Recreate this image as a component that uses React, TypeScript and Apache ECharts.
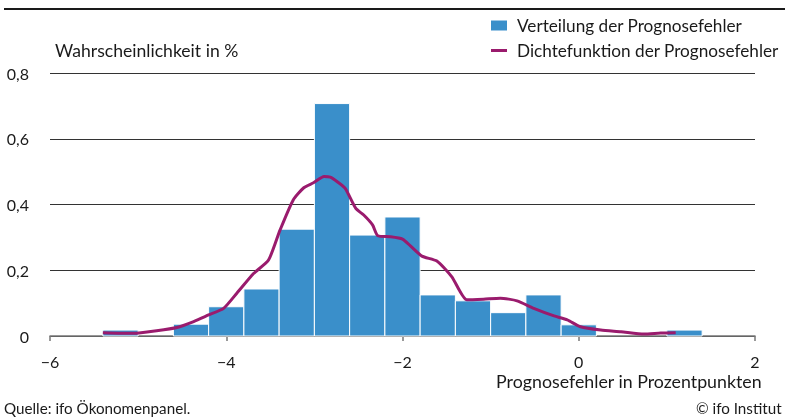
import React, { useEffect, useRef } from "react";
import * as echarts from "echarts";

// Histogram bins (lower edges) and heights (probability density)
const BIN_WIDTH = 0.4;
const binLower = [-5.4, -4.6, -4.2, -3.8, -3.4, -3.0, -2.6, -2.2, -1.8, -1.4, -1.0, -0.6, -0.2, 1.0];
const binHeight = [0.018, 0.036, 0.089, 0.143, 0.325, 0.707, 0.307, 0.362, 0.125, 0.107, 0.071, 0.125, 0.034, 0.018];

// Density curve sample points
const densityX = [-5.40, -5.05, -4.79, -4.56, -4.37, -4.20, -4.03, -3.88, -3.69, -3.52, -3.39, -3.24, -3.12, -3.01, -2.89, -2.82, -2.74, -2.65, -2.53, -2.44, -2.34, -2.28, -2.14, -2.00, -1.91, -1.78, -1.61, -1.44, -1.27, -1.08, -0.89, -0.70, -0.51, -0.28, -0.13, 0.02, 0.25, 0.48, 0.74, 0.93, 1.10];
const densityY = [0.010, 0.008, 0.016, 0.026, 0.044, 0.064, 0.084, 0.130, 0.190, 0.231, 0.322, 0.414, 0.451, 0.466, 0.485, 0.483, 0.469, 0.449, 0.388, 0.368, 0.338, 0.305, 0.302, 0.295, 0.274, 0.243, 0.228, 0.180, 0.110, 0.112, 0.115, 0.107, 0.084, 0.061, 0.049, 0.028, 0.018, 0.013, 0.006, 0.009, 0.010];

const seriesNames = ["Verteilung der Prognosefehler", "Dichtefunktion der Prognosefehler"];
const yAxisTitle = "Wahrscheinlichkeit in %";
const xAxisTitle = "Prognosefehler in Prozentpunkten";
const sourceText = "Quelle: ifo Ökonomenpanel.";
const copyrightText = "© ifo Institut";

const FONT = "Lato, 'Noto Sans', sans-serif";
const TEXT = "#1a1a1a";
const BLUE = "#3a8fca";
const PURPLE = "#9a1b6d";
const LINE_ICON = "path://M0,0M0,3.5L16,3.5L16,6.5L0,6.5ZM16,10";

export default function App() {
  const ref = useRef<HTMLDivElement>(null);
  useEffect(() => {
    if (!ref.current) return;
    const chart = echarts.init(ref.current, null, { renderer: "svg" });
    const histData = binLower.map((lo, i) => [lo, +(lo + BIN_WIDTH).toFixed(2), binHeight[i]]);
    const lineData = densityX.map((x, i) => [x, densityY[i]]);
    chart.setOption({
      animation: false,
      textStyle: { fontFamily: FONT },
      grid: { left: 50, right: 30, top: 73, bottom: 81, containLabel: false },
      legend: {
        orient: "vertical",
        left: 491,
        top: 17,
        padding: 0,
        itemWidth: 16,
        itemHeight: 10,
        itemGap: 8,
        textStyle: { fontSize: 17.2, color: TEXT, fontFamily: FONT, padding: [0, 0, 0, 5] },
        data: [
          { name: seriesNames[0], icon: "rect" },
          { name: seriesNames[1], icon: LINE_ICON },
        ],
      },
      xAxis: {
        type: "value",
        min: -6,
        max: 2,
        interval: 2,
        axisLine: { show: true, lineStyle: { color: "#777", width: 1.5 } },
        axisTick: { show: true, length: 5, lineStyle: { color: "#777", width: 1.5 } },
        axisLabel: {
          fontSize: 16,
          color: TEXT,
          fontFamily: FONT,
          margin: 17,
          formatter: (v: number) => String(v).replace("-", "\u2212"),
        },
        splitLine: { show: false },
      },
      yAxis: {
        type: "value",
        min: 0,
        max: 0.8,
        interval: 0.2,
        axisLine: { show: false },
        axisTick: { show: false },
        axisLabel: {
          fontSize: 16,
          color: TEXT,
          fontFamily: FONT,
          margin: 21,
          formatter: (v: number) => (v === 0 ? "0" : v.toFixed(1).replace(".", ",")),
        },
        splitLine: { show: true, lineStyle: { color: "#333", width: 1 } },
      },
      series: [
        {
          name: seriesNames[0],
          type: "custom",
          itemStyle: { color: BLUE },
          encode: { x: [0, 1], y: 2 },
          data: histData,
          renderItem: (params: any, api: any) => {
            const p0 = api.coord([api.value(0), api.value(2)]);
            const p1 = api.coord([api.value(1), 0]);
            return {
              type: "rect",
              shape: { x: p0[0], y: p0[1], width: p1[0] - p0[0], height: p1[1] - p0[1] },
              style: { fill: BLUE, stroke: "#fff", lineWidth: 1 },
            };
          },
          z: 2,
        },
        {
          name: seriesNames[1],
          type: "line",
          data: lineData,
          smooth: 0.2,
          symbol: "none",
          lineStyle: { color: PURPLE, width: 3 },
          itemStyle: { color: PURPLE },
          z: 3,
        },
      ],
      graphic: [
        { type: "line", shape: { x1: 4, y1: 9, x2: 785, y2: 9 }, style: { stroke: "#1a1a1a", lineWidth: 2 } },
        { type: "text", left: 55, top: 41, style: { text: yAxisTitle, fontSize: 17.6, fill: TEXT, fontFamily: FONT } },
        { type: "text", right: 23, top: 372, style: { text: xAxisTitle, fontSize: 17.8, fill: TEXT, fontFamily: FONT } },
        { type: "text", left: 4, top: 400, style: { text: sourceText, fontSize: 15.2, fill: TEXT, fontFamily: FONT } },
        { type: "text", left: 696, top: 400, style: { text: copyrightText, fontSize: 15.2, fill: TEXT, fontFamily: FONT } },
      ],
    });
    return () => chart.dispose();
  }, []);
  return <div ref={ref} style={{ position: "fixed", left: 0, top: 0, width: 785, height: 417 }} />;
}
